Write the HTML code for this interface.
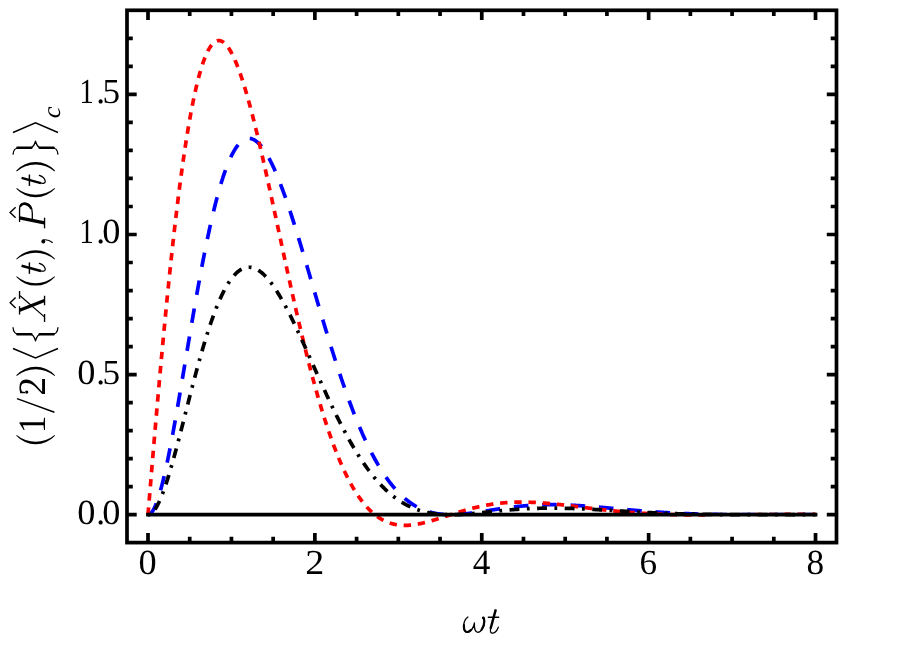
<!DOCTYPE html>
<html><head><meta charset="utf-8"><title>plot</title>
<style>
html,body{margin:0;padding:0;background:#fff;}
body{width:900px;height:650px;overflow:hidden;font-family:"Liberation Serif",serif;}
svg{display:block;}
text{font-family:"Liberation Serif",serif;fill:#000;text-rendering:geometricPrecision;}
svg{will-change:transform;}
.tl text{font-size:35.2px;}
</style></head><body>
<svg width="900" height="650" viewBox="0 0 900 650">
<rect x="0" y="0" width="900" height="650" fill="#fff"/>
<defs><clipPath id="cc"><path clip-rule="evenodd" d="M0,0 H900 V650 H0 Z M705,515.8000000000001 H830 V518.7 H705 Z"/></clipPath></defs>
<g fill="none" stroke-width="3.7" stroke-linecap="butt" stroke-linejoin="round">
<path clip-path="url(#cc)" d="M148.00,514.70 L148.56,514.64 L149.11,514.48 L149.67,514.21 L150.23,513.83 L150.78,513.35 L151.34,512.76 L151.89,512.08 L152.45,511.30 L153.01,510.43 L153.56,509.46 L154.12,508.41 L154.68,507.26 L155.23,506.03 L155.79,504.72 L156.34,503.32 L156.90,501.84 L157.46,500.29 L158.01,498.65 L158.57,496.95 L159.13,495.17 L159.68,493.32 L160.24,491.40 L160.79,489.42 L161.35,487.37 L161.91,485.26 L162.46,483.08 L163.02,480.85 L163.58,478.56 L164.13,476.22 L164.69,473.82 L165.24,471.37 L165.80,468.86 L166.36,466.31 L166.91,463.72 L167.47,461.07 L168.03,458.39 L168.58,455.66 L169.14,452.89 L169.69,450.08 L170.25,447.24 L170.81,444.36 L171.36,441.44 L171.92,438.49 L172.48,435.51 L173.03,432.51 L173.59,429.47 L174.14,426.41 L174.70,423.32 L175.26,420.21 L175.81,417.07 L176.37,413.92 L176.93,410.74 L177.48,407.55 L178.04,404.34 L178.59,401.11 L179.15,397.87 L179.71,394.62 L180.26,391.35 L180.82,388.08 L181.38,384.79 L181.93,381.50 L182.49,378.20 L183.04,374.89 L183.60,371.58 L184.16,368.26 L184.71,364.95 L185.27,361.63 L185.83,358.31 L186.38,354.99 L186.94,351.68 L187.49,348.36 L188.05,345.06 L188.61,341.75 L189.16,338.45 L189.72,335.16 L190.28,331.88 L190.83,328.60 L191.39,325.34 L191.95,322.08 L192.50,318.84 L193.06,315.61 L193.61,312.39 L194.17,309.18 L194.73,306.00 L195.28,302.82 L195.84,299.66 L196.40,296.52 L196.95,293.40 L197.51,290.30 L198.06,287.21 L198.62,284.14 L199.18,281.10 L199.73,278.08 L200.29,275.08 L200.85,272.10 L201.40,269.14 L201.96,266.21 L202.51,263.30 L203.07,260.42 L203.63,257.56 L204.18,254.73 L204.74,251.93 L205.30,249.15 L205.85,246.40 L206.41,243.68 L206.96,240.99 L207.52,238.32 L208.08,235.69 L208.63,233.09 L209.19,230.51 L209.75,227.97 L210.30,225.46 L210.86,222.98 L211.41,220.53 L211.97,218.11 L212.53,215.73 L213.08,213.38 L213.64,211.06 L214.20,208.78 L214.75,206.53 L215.31,204.31 L215.86,202.13 L216.42,199.99 L216.98,197.88 L217.53,195.80 L218.09,193.76 L218.65,191.76 L219.20,189.79 L219.76,187.85 L220.31,185.96 L220.87,184.10 L221.43,182.27 L221.98,180.49 L222.54,178.74 L223.10,177.02 L223.65,175.35 L224.21,173.71 L224.76,172.10 L225.32,170.54 L225.88,169.01 L226.43,167.52 L226.99,166.07 L227.55,164.66 L228.10,163.28 L228.66,161.94 L229.21,160.64 L229.77,159.38 L230.33,158.15 L230.88,156.96 L231.44,155.81 L232.00,154.70 L232.55,153.62 L233.11,152.58 L233.67,151.58 L234.22,150.62 L234.78,149.70 L235.33,148.81 L235.89,147.96 L236.45,147.14 L237.00,146.37 L237.56,145.63 L238.12,144.93 L238.67,144.26 L239.23,143.63 L239.78,143.04 L240.34,142.48 L240.90,141.96 L241.45,141.48 L242.01,141.03 L242.57,140.62 L243.12,140.24 L243.68,139.90 L244.23,139.60 L244.79,139.33 L245.35,139.09 L245.90,138.89 L246.46,138.73 L247.02,138.59 L247.57,138.50 L248.13,138.43 L248.68,138.40 L249.24,138.41 L249.80,138.45 L250.35,138.52 L250.91,138.62 L251.47,138.76 L252.02,138.92 L252.58,139.12 L253.13,139.36 L253.69,139.62 L254.25,139.92 L254.80,140.24 L255.36,140.60 L255.92,140.99 L256.47,141.40 L257.03,141.85 L257.58,142.33 L258.14,142.84 L258.70,143.37 L259.25,143.94 L259.81,144.53 L260.37,145.16 L260.92,145.81 L261.48,146.49 L262.03,147.19 L262.59,147.92 L263.15,148.68 L263.70,149.47 L264.26,150.28 L264.82,151.12 L265.37,151.99 L265.93,152.88 L266.48,153.79 L267.04,154.73 L267.60,155.69 L268.15,156.68 L268.71,157.69 L269.27,158.73 L269.82,159.79 L270.38,160.87 L270.93,161.97 L271.49,163.10 L272.05,164.24 L272.60,165.41 L273.16,166.60 L273.72,167.81 L274.27,169.04 L274.83,170.30 L275.39,171.57 L275.94,172.86 L276.50,174.17 L277.05,175.50 L277.61,176.85 L278.17,178.21 L278.72,179.60 L279.28,181.00 L279.84,182.42 L280.39,183.85 L280.95,185.31 L281.50,186.78 L282.06,188.26 L282.62,189.76 L283.17,191.28 L283.73,192.81 L284.29,194.35 L284.84,195.91 L285.40,197.49 L285.95,199.07 L286.51,200.68 L287.07,202.29 L287.62,203.92 L288.18,205.56 L288.74,207.21 L289.29,208.87 L289.85,210.55 L290.40,212.23 L290.96,213.93 L291.52,215.64 L292.07,217.35 L292.63,219.08 L293.19,220.82 L293.74,222.57 L294.30,224.32 L294.85,226.09 L295.41,227.86 L295.97,229.64 L296.52,231.43 L297.08,233.22 L297.64,235.03 L298.19,236.84 L298.75,238.66 L299.30,240.48 L299.86,242.31 L300.42,244.15 L300.97,245.99 L301.53,247.83 L302.09,249.69 L302.64,251.54 L303.20,253.40 L303.75,255.27 L304.31,257.14 L304.87,259.01 L305.42,260.88 L305.98,262.76 L306.54,264.64 L307.09,266.53 L307.65,268.41 L308.20,270.30 L308.76,272.19 L309.32,274.09 L309.87,275.98 L310.43,277.87 L310.99,279.77 L311.54,281.66 L312.10,283.56 L312.65,285.46 L313.21,287.35 L313.77,289.25 L314.32,291.15 L314.88,293.04 L315.44,294.93 L315.99,296.83 L316.55,298.72 L317.11,300.61 L317.66,302.49 L318.22,304.38 L318.77,306.26 L319.33,308.14 L319.89,310.02 L320.44,311.89 L321.00,313.77 L321.56,315.63 L322.11,317.50 L322.67,319.36 L323.22,321.22 L323.78,323.07 L324.34,324.92 L324.89,326.76 L325.45,328.60 L326.01,330.44 L326.56,332.27 L327.12,334.09 L327.67,335.91 L328.23,337.73 L328.79,339.54 L329.34,341.34 L329.90,343.14 L330.46,344.93 L331.01,346.71 L331.57,348.49 L332.12,350.26 L332.68,352.03 L333.24,353.79 L333.79,355.54 L334.35,357.28 L334.91,359.02 L335.46,360.75 L336.02,362.47 L336.57,364.18 L337.13,365.89 L337.69,367.59 L338.24,369.28 L338.80,370.96 L339.36,372.64 L339.91,374.30 L340.47,375.96 L341.02,377.61 L341.58,379.25 L342.14,380.88 L342.69,382.51 L343.25,384.12 L343.81,385.73 L344.36,387.32 L344.92,388.91 L345.47,390.48 L346.03,392.05 L346.59,393.61 L347.14,395.16 L347.70,396.70 L348.26,398.23 L348.81,399.75 L349.37,401.26 L349.92,402.76 L350.48,404.25 L351.04,405.73 L351.59,407.20 L352.15,408.66 L352.71,410.11 L353.26,411.55 L353.82,412.97 L354.37,414.39 L354.93,415.80 L355.49,417.20 L356.04,418.58 L356.60,419.96 L357.16,421.33 L357.71,422.68 L358.27,424.03 L358.83,425.36 L359.38,426.68 L359.94,427.99 L360.49,429.29 L361.05,430.58 L361.61,431.86 L362.16,433.13 L362.72,434.39 L363.28,435.64 L363.83,436.87 L364.39,438.09 L364.94,439.31 L365.50,440.51 L366.06,441.70 L366.61,442.88 L367.17,444.05 L367.73,445.21 L368.28,446.36 L368.84,447.49 L369.39,448.62 L369.95,449.73 L370.51,450.83 L371.06,451.93 L371.62,453.01 L372.18,454.08 L372.73,455.13 L373.29,456.18 L373.84,457.22 L374.40,458.24 L374.96,459.26 L375.51,460.26 L376.07,461.25 L376.63,462.24 L377.18,463.21 L377.74,464.17 L378.29,465.12 L378.85,466.05 L379.41,466.98 L379.96,467.90 L380.52,468.80 L381.08,469.70 L381.63,470.58 L382.19,471.46 L382.74,472.32 L383.30,473.17 L383.86,474.01 L384.41,474.84 L384.97,475.66 L385.53,476.47 L386.08,477.27 L386.64,478.06 L387.19,478.84 L387.75,479.61 L388.31,480.37 L388.86,481.12 L389.42,481.85 L389.98,482.58 L390.53,483.30 L391.09,484.01 L391.64,484.70 L392.20,485.39 L392.76,486.07 L393.31,486.74 L393.87,487.40 L394.43,488.04 L394.98,488.68 L395.54,489.31 L396.09,489.93 L396.65,490.54 L397.21,491.14 L397.76,491.73 L398.32,492.31 L398.88,492.89 L399.43,493.45 L399.99,494.00 L400.55,494.55 L401.10,495.08 L401.66,495.61 L402.21,496.13 L402.77,496.64 L403.33,497.14 L403.88,497.63 L404.44,498.11 L405.00,498.59 L405.55,499.05 L406.11,499.51 L406.66,499.96 L407.22,500.40 L407.78,500.83 L408.33,501.25 L408.89,501.67 L409.45,502.08 L410.00,502.48 L410.56,502.87 L411.11,503.25 L411.67,503.63 L412.23,504.00 L412.78,504.36 L413.34,504.71 L413.90,505.06 L414.45,505.39 L415.01,505.72 L415.56,506.05 L416.12,506.36 L416.68,506.67 L417.23,506.97 L417.79,507.27 L418.35,507.56 L418.90,507.84 L419.46,508.11 L420.01,508.38 L420.57,508.64 L421.13,508.89 L421.68,509.14 L422.24,509.38 L422.80,509.61 L423.35,509.84 L423.91,510.06 L424.46,510.28 L425.02,510.49 L425.58,510.69 L426.13,510.89 L426.69,511.08 L427.25,511.27 L427.80,511.45 L428.36,511.62 L428.91,511.79 L429.47,511.95 L430.03,512.11 L430.58,512.26 L431.14,512.41 L431.70,512.55 L432.25,512.68 L432.81,512.82 L433.36,512.94 L433.92,513.06 L434.48,513.18 L435.03,513.29 L435.59,513.40 L436.15,513.50 L436.70,513.59 L437.26,513.69 L437.81,513.77 L438.37,513.86 L438.93,513.94 L439.48,514.01 L440.04,514.08 L440.60,514.15 L441.15,514.21 L441.71,514.27 L442.27,514.32 L442.82,514.37 L443.38,514.42 L443.93,514.46 L444.49,514.50 L445.05,514.54 L445.60,514.57 L446.16,514.60 L446.72,514.62 L447.27,514.64 L447.83,514.66 L448.38,514.67 L448.94,514.69 L449.50,514.69 L450.05,514.70 L450.61,514.70 L451.17,514.70 L451.72,514.69 L452.28,514.69 L452.83,514.68 L453.39,514.67 L453.95,514.65 L454.50,514.63 L455.06,514.61 L455.62,514.59 L456.17,514.56 L456.73,514.54 L457.28,514.51 L457.84,514.47 L458.40,514.44 L458.95,514.40 L459.51,514.36 L460.07,514.32 L460.62,514.28 L461.18,514.23 L461.73,514.19 L462.29,514.14 L462.85,514.09 L463.40,514.04 L463.96,513.98 L464.52,513.93 L465.07,513.87 L465.63,513.81 L466.18,513.75 L466.74,513.69 L467.30,513.62 L467.85,513.56 L468.41,513.49 L468.97,513.42 L469.52,513.35 L470.08,513.28 L470.63,513.21 L471.19,513.14 L471.75,513.07 L472.30,512.99 L472.86,512.92 L473.42,512.84 L473.97,512.76 L474.53,512.69 L475.08,512.61 L475.64,512.53 L476.20,512.45 L476.75,512.36 L477.31,512.28 L477.87,512.20 L478.42,512.12 L478.98,512.03 L479.53,511.95 L480.09,511.86 L480.65,511.78 L481.20,511.69 L481.76,511.61 L482.32,511.52 L482.87,511.43 L483.43,511.35 L483.99,511.26 L484.54,511.17 L485.10,511.08 L485.65,511.00 L486.21,510.91 L486.77,510.82 L487.32,510.73 L487.88,510.64 L488.44,510.56 L488.99,510.47 L489.55,510.38 L490.10,510.29 L490.66,510.20 L491.22,510.12 L491.77,510.03 L492.33,509.94 L492.89,509.85 L493.44,509.77 L494.00,509.68 L494.55,509.59 L495.11,509.51 L495.67,509.42 L496.22,509.33 L496.78,509.25 L497.34,509.16 L497.89,509.08 L498.45,509.00 L499.00,508.91 L499.56,508.83 L500.12,508.75 L500.67,508.66 L501.23,508.58 L501.79,508.50 L502.34,508.42 L502.90,508.34 L503.45,508.26 L504.01,508.18 L504.57,508.11 L505.12,508.03 L505.68,507.95 L506.24,507.88 L506.79,507.80 L507.35,507.73 L507.90,507.65 L508.46,507.58 L509.02,507.51 L509.57,507.43 L510.13,507.36 L510.69,507.29 L511.24,507.22 L511.80,507.16 L512.35,507.09 L512.91,507.02 L513.47,506.96 L514.02,506.89 L514.58,506.83 L515.14,506.76 L515.69,506.70 L516.25,506.64 L516.80,506.58 L517.36,506.52 L517.92,506.46 L518.47,506.40 L519.03,506.34 L519.59,506.29 L520.14,506.23 L520.70,506.18 L521.25,506.12 L521.81,506.07 L522.37,506.02 L522.92,505.97 L523.48,505.92 L524.04,505.87 L524.59,505.82 L525.15,505.78 L525.71,505.73 L526.26,505.69 L526.82,505.64 L527.37,505.60 L527.93,505.56 L528.49,505.52 L529.04,505.48 L529.60,505.44 L530.16,505.40 L530.71,505.36 L531.27,505.33 L531.82,505.29 L532.38,505.26 L532.94,505.23 L533.49,505.20 L534.05,505.16 L534.61,505.14 L535.16,505.11 L535.72,505.08 L536.27,505.05 L536.83,505.03 L537.39,505.00 L537.94,504.98 L538.50,504.96 L539.06,504.93 L539.61,504.91 L540.17,504.89 L540.72,504.87 L541.28,504.86 L541.84,504.84 L542.39,504.82 L542.95,504.81 L543.51,504.79 L544.06,504.78 L544.62,504.77 L545.17,504.76 L545.73,504.75 L546.29,504.74 L546.84,504.73 L547.40,504.72 L547.96,504.72 L548.51,504.71 L549.07,504.71 L549.62,504.70 L550.18,504.70 L550.74,504.70 L551.29,504.70 L551.85,504.70 L552.41,504.70 L552.96,504.70 L553.52,504.70 L554.07,504.71 L554.63,504.71 L555.19,504.72 L555.74,504.72 L556.30,504.73 L556.86,504.74 L557.41,504.75 L557.97,504.76 L558.52,504.77 L559.08,504.78 L559.64,504.79 L560.19,504.80 L560.75,504.81 L561.31,504.83 L561.86,504.84 L562.42,504.86 L562.97,504.88 L563.53,504.89 L564.09,504.91 L564.64,504.93 L565.20,504.95 L565.76,504.97 L566.31,504.99 L566.87,505.01 L567.43,505.03 L567.98,505.06 L568.54,505.08 L569.09,505.10 L569.65,505.13 L570.21,505.15 L570.76,505.18 L571.32,505.21 L571.88,505.23 L572.43,505.26 L572.99,505.29 L573.54,505.32 L574.10,505.35 L574.66,505.38 L575.21,505.41 L575.77,505.44 L576.33,505.48 L576.88,505.51 L577.44,505.54 L577.99,505.57 L578.55,505.61 L579.11,505.64 L579.66,505.68 L580.22,505.71 L580.78,505.75 L581.33,505.79 L581.89,505.83 L582.44,505.86 L583.00,505.90 L583.56,505.94 L584.11,505.98 L584.67,506.02 L585.23,506.06 L585.78,506.10 L586.34,506.14 L586.89,506.18 L587.45,506.22 L588.01,506.26 L588.56,506.30 L589.12,506.35 L589.68,506.39 L590.23,506.43 L590.79,506.48 L591.34,506.52 L591.90,506.56 L592.46,506.61 L593.01,506.65 L593.57,506.70 L594.13,506.74 L594.68,506.79 L595.24,506.84 L595.79,506.88 L596.35,506.93 L596.91,506.98 L597.46,507.02 L598.02,507.07 L598.58,507.12 L599.13,507.16 L599.69,507.21 L600.24,507.26 L600.80,507.31 L601.36,507.36 L601.91,507.40 L602.47,507.45 L603.03,507.50 L603.58,507.55 L604.14,507.60 L604.69,507.65 L605.25,507.70 L605.81,507.75 L606.36,507.80 L606.92,507.85 L607.48,507.90 L608.03,507.95 L608.59,508.00 L609.15,508.05 L609.70,508.10 L610.26,508.15 L610.81,508.20 L611.37,508.25 L611.93,508.30 L612.48,508.35 L613.04,508.40 L613.60,508.45 L614.15,508.50 L614.71,508.55 L615.26,508.60 L615.82,508.65 L616.38,508.70 L616.93,508.75 L617.49,508.80 L618.05,508.85 L618.60,508.90 L619.16,508.95 L619.71,509.00 L620.27,509.05 L620.83,509.10 L621.38,509.15 L621.94,509.20 L622.50,509.25 L623.05,509.30 L623.61,509.35 L624.16,509.40 L624.72,509.45 L625.28,509.50 L625.83,509.55 L626.39,509.60 L626.95,509.65 L627.50,509.70 L628.06,509.75 L628.61,509.80 L629.17,509.84 L629.73,509.89 L630.28,509.94 L630.84,509.99 L631.40,510.04 L631.95,510.09 L632.51,510.13 L633.06,510.18 L633.62,510.23 L634.18,510.28 L634.73,510.32 L635.29,510.37 L635.85,510.42 L636.40,510.46 L636.96,510.51 L637.51,510.56 L638.07,510.60 L638.63,510.65 L639.18,510.69 L639.74,510.74 L640.30,510.78 L640.85,510.83 L641.41,510.87 L641.96,510.92 L642.52,510.96 L643.08,511.01 L643.63,511.05 L644.19,511.09 L644.75,511.14 L645.30,511.18 L645.86,511.22 L646.41,511.27 L646.97,511.31 L647.53,511.35 L648.08,511.39 L648.64,511.43 L649.20,511.48 L649.75,511.52 L650.31,511.56 L650.87,511.60 L651.42,511.64 L651.98,511.68 L652.53,511.72 L653.09,511.76 L653.65,511.80 L654.20,511.84 L654.76,511.88 L655.32,511.91 L655.87,511.95 L656.43,511.99 L656.98,512.03 L657.54,512.07 L658.10,512.10 L658.65,512.14 L659.21,512.18 L659.77,512.21 L660.32,512.25 L660.88,512.28 L661.43,512.32 L661.99,512.36 L662.55,512.39 L663.10,512.43 L663.66,512.46 L664.22,512.49 L664.77,512.53 L665.33,512.56 L665.88,512.59 L666.44,512.63 L667.00,512.66 L667.55,512.69 L668.11,512.72 L668.67,512.76 L669.22,512.79 L669.78,512.82 L670.33,512.85 L670.89,512.88 L671.45,512.91 L672.00,512.94 L672.56,512.97 L673.12,513.00 L673.67,513.03 L674.23,513.06 L674.78,513.08 L675.34,513.11 L675.90,513.14 L676.45,513.17 L677.01,513.20 L677.57,513.22 L678.12,513.25 L678.68,513.28 L679.23,513.30 L679.79,513.33 L680.35,513.35 L680.90,513.38 L681.46,513.40 L682.02,513.43 L682.57,513.45 L683.13,513.48 L683.68,513.50 L684.24,513.52 L684.80,513.55 L685.35,513.57 L685.91,513.59 L686.47,513.62 L687.02,513.64 L687.58,513.66 L688.13,513.68 L688.69,513.70 L689.25,513.72 L689.80,513.74 L690.36,513.76 L690.92,513.78 L691.47,513.80 L692.03,513.82 L692.59,513.84 L693.14,513.86 L693.70,513.88 L694.25,513.90 L694.81,513.92 L695.37,513.94 L695.92,513.95 L696.48,513.97 L697.04,513.99 L697.59,514.01 L698.15,514.02 L698.70,514.04 L699.26,514.06 L699.82,514.07 L700.37,514.09 L700.93,514.10 L701.49,514.12 L702.04,514.13 L702.60,514.15 L703.15,514.16 L703.71,514.18 L704.27,514.19 L704.82,514.20 L705.38,514.22 L705.94,514.23 L706.49,514.24 L707.05,514.26 L707.60,514.27 L708.16,514.28 L708.72,514.29 L709.27,514.31 L709.83,514.32 L710.39,514.33 L710.94,514.34 L711.50,514.35 L712.05,514.36 L712.61,514.37 L713.17,514.38 L713.72,514.39 L714.28,514.40 L714.84,514.41 L715.39,514.42 L715.95,514.43 L716.50,514.44 L717.06,514.45 L717.62,514.46 L718.17,514.47 L718.73,514.48 L719.29,514.49 L719.84,514.49 L720.40,514.50 L720.95,514.51 L721.51,514.52 L722.07,514.52 L722.62,514.53 L723.18,514.54 L723.74,514.54 L724.29,514.55 L724.85,514.56 L725.40,514.56 L725.96,514.57 L726.52,514.58 L727.07,514.58 L727.63,514.59 L728.19,514.59 L728.74,514.60 L729.30,514.60 L729.85,514.61 L730.41,514.61 L730.97,514.62 L731.52,514.62 L732.08,514.63 L732.64,514.63 L733.19,514.63 L733.75,514.64 L734.31,514.64 L734.86,514.65 L735.42,514.65 L735.97,514.65 L736.53,514.66 L737.09,514.66 L737.64,514.66 L738.20,514.66 L738.76,514.67 L739.31,514.67 L739.87,514.67 L740.42,514.68 L740.98,514.68 L741.54,514.68 L742.09,514.68 L742.65,514.68 L743.21,514.69 L743.76,514.69 L744.32,514.69 L744.87,514.69 L745.43,514.69 L745.99,514.69 L746.54,514.69 L747.10,514.69 L747.66,514.70 L748.21,514.70 L748.77,514.70 L749.32,514.70 L749.88,514.70 L750.44,514.70 L750.99,514.70 L751.55,514.70 L752.11,514.70 L752.66,514.70 L753.22,514.70 L753.77,514.70 L754.33,514.70 L754.89,514.70 L755.44,514.70 L756.00,514.70 L756.56,514.70 L757.11,514.70 L757.67,514.70 L758.22,514.70 L758.78,514.70 L759.34,514.70 L759.89,514.69 L760.45,514.69 L761.01,514.69 L761.56,514.69 L762.12,514.69 L762.67,514.69 L763.23,514.69 L763.79,514.69 L764.34,514.69 L764.90,514.69 L765.46,514.68 L766.01,514.68 L766.57,514.68 L767.12,514.68 L767.68,514.68 L768.24,514.68 L768.79,514.67 L769.35,514.67 L769.91,514.67 L770.46,514.67 L771.02,514.67 L771.57,514.67 L772.13,514.66 L772.69,514.66 L773.24,514.66 L773.80,514.66 L774.36,514.66 L774.91,514.65 L775.47,514.65 L776.03,514.65 L776.58,514.65 L777.14,514.65 L777.69,514.64 L778.25,514.64 L778.81,514.64 L779.36,514.64 L779.92,514.64 L780.48,514.63 L781.03,514.63 L781.59,514.63 L782.14,514.63 L782.70,514.62 L783.26,514.62 L783.81,514.62 L784.37,514.62 L784.93,514.62 L785.48,514.61 L786.04,514.61 L786.59,514.61 L787.15,514.61 L787.71,514.60 L788.26,514.60 L788.82,514.60 L789.38,514.60 L789.93,514.59 L790.49,514.59 L791.04,514.59 L791.60,514.59 L792.16,514.59 L792.71,514.58 L793.27,514.58 L793.83,514.58 L794.38,514.58 L794.94,514.57 L795.49,514.57 L796.05,514.57 L796.61,514.57 L797.16,514.56 L797.72,514.56 L798.28,514.56 L798.83,514.56 L799.39,514.56 L799.94,514.55 L800.50,514.55 L801.06,514.55 L801.61,514.55 L802.17,514.54 L802.73,514.54 L803.28,514.54 L803.84,514.54 L804.39,514.54 L804.95,514.53 L805.51,514.53 L806.06,514.53 L806.62,514.53 L807.18,514.53 L807.73,514.52 L808.29,514.52 L808.84,514.52 L809.40,514.52 L809.96,514.51 L810.51,514.51 L811.07,514.51 L811.63,514.51 L812.18,514.51 L812.74,514.51 L813.29,514.50 L813.85,514.50 L814.41,514.50 L814.96,514.50 L815.52,514.50" stroke="#0000ff" stroke-dasharray="14.6 13.8"/>
<path clip-path="url(#cc)" d="M148.00,514.70 L148.56,507.94 L149.11,501.20 L149.67,494.48 L150.23,487.77 L150.78,481.07 L151.34,474.40 L151.89,467.75 L152.45,461.13 L153.01,454.52 L153.56,447.94 L154.12,441.39 L154.68,434.87 L155.23,428.37 L155.79,421.91 L156.34,415.47 L156.90,409.07 L157.46,402.71 L158.01,396.37 L158.57,390.08 L159.13,383.82 L159.68,377.60 L160.24,371.42 L160.79,365.28 L161.35,359.18 L161.91,353.13 L162.46,347.11 L163.02,341.14 L163.58,335.22 L164.13,329.34 L164.69,323.51 L165.24,317.73 L165.80,311.99 L166.36,306.31 L166.91,300.67 L167.47,295.09 L168.03,289.55 L168.58,284.07 L169.14,278.65 L169.69,273.27 L170.25,267.95 L170.81,262.69 L171.36,257.47 L171.92,252.32 L172.48,247.22 L173.03,242.18 L173.59,237.20 L174.14,232.27 L174.70,227.41 L175.26,222.60 L175.81,217.85 L176.37,213.17 L176.93,208.54 L177.48,203.97 L178.04,199.46 L178.59,195.02 L179.15,190.64 L179.71,186.32 L180.26,182.06 L180.82,177.86 L181.38,173.73 L181.93,169.66 L182.49,165.65 L183.04,161.71 L183.60,157.83 L184.16,154.02 L184.71,150.26 L185.27,146.58 L185.83,142.96 L186.38,139.40 L186.94,135.90 L187.49,132.47 L188.05,129.11 L188.61,125.81 L189.16,122.58 L189.72,119.41 L190.28,116.30 L190.83,113.26 L191.39,110.29 L191.95,107.38 L192.50,104.53 L193.06,101.75 L193.61,99.03 L194.17,96.38 L194.73,93.80 L195.28,91.27 L195.84,88.82 L196.40,86.42 L196.95,84.09 L197.51,81.83 L198.06,79.62 L198.62,77.49 L199.18,75.41 L199.73,73.40 L200.29,71.45 L200.85,69.56 L201.40,67.74 L201.96,65.98 L202.51,64.28 L203.07,62.64 L203.63,61.06 L204.18,59.55 L204.74,58.09 L205.30,56.70 L205.85,55.37 L206.41,54.10 L206.96,52.88 L207.52,51.73 L208.08,50.64 L208.63,49.60 L209.19,48.62 L209.75,47.70 L210.30,46.84 L210.86,46.04 L211.41,45.29 L211.97,44.60 L212.53,43.97 L213.08,43.39 L213.64,42.87 L214.20,42.40 L214.75,41.99 L215.31,41.63 L215.86,41.32 L216.42,41.07 L216.98,40.87 L217.53,40.73 L218.09,40.63 L218.65,40.59 L219.20,40.60 L219.76,40.66 L220.31,40.77 L220.87,40.92 L221.43,41.13 L221.98,41.39 L222.54,41.70 L223.10,42.05 L223.65,42.45 L224.21,42.90 L224.76,43.39 L225.32,43.93 L225.88,44.52 L226.43,45.14 L226.99,45.82 L227.55,46.54 L228.10,47.30 L228.66,48.10 L229.21,48.95 L229.77,49.84 L230.33,50.77 L230.88,51.74 L231.44,52.75 L232.00,53.80 L232.55,54.89 L233.11,56.02 L233.67,57.18 L234.22,58.39 L234.78,59.63 L235.33,60.91 L235.89,62.22 L236.45,63.57 L237.00,64.96 L237.56,66.38 L238.12,67.83 L238.67,69.31 L239.23,70.83 L239.78,72.39 L240.34,73.97 L240.90,75.58 L241.45,77.23 L242.01,78.90 L242.57,80.61 L243.12,82.34 L243.68,84.11 L244.23,85.90 L244.79,87.72 L245.35,89.56 L245.90,91.44 L246.46,93.33 L247.02,95.26 L247.57,97.21 L248.13,99.18 L248.68,101.18 L249.24,103.20 L249.80,105.24 L250.35,107.31 L250.91,109.40 L251.47,111.51 L252.02,113.64 L252.58,115.79 L253.13,117.96 L253.69,120.15 L254.25,122.36 L254.80,124.58 L255.36,126.83 L255.92,129.09 L256.47,131.37 L257.03,133.67 L257.58,135.98 L258.14,138.31 L258.70,140.65 L259.25,143.01 L259.81,145.38 L260.37,147.76 L260.92,150.16 L261.48,152.57 L262.03,154.99 L262.59,157.42 L263.15,159.87 L263.70,162.33 L264.26,164.79 L264.82,167.27 L265.37,169.75 L265.93,172.25 L266.48,174.75 L267.04,177.26 L267.60,179.78 L268.15,182.31 L268.71,184.84 L269.27,187.38 L269.82,189.93 L270.38,192.48 L270.93,195.04 L271.49,197.60 L272.05,200.17 L272.60,202.74 L273.16,205.31 L273.72,207.89 L274.27,210.47 L274.83,213.05 L275.39,215.64 L275.94,218.23 L276.50,220.81 L277.05,223.40 L277.61,225.99 L278.17,228.58 L278.72,231.17 L279.28,233.76 L279.84,236.35 L280.39,238.94 L280.95,241.53 L281.50,244.11 L282.06,246.70 L282.62,249.28 L283.17,251.85 L283.73,254.43 L284.29,257.00 L284.84,259.57 L285.40,262.13 L285.95,264.69 L286.51,267.25 L287.07,269.80 L287.62,272.34 L288.18,274.88 L288.74,277.41 L289.29,279.94 L289.85,282.46 L290.40,284.98 L290.96,287.49 L291.52,289.99 L292.07,292.48 L292.63,294.97 L293.19,297.45 L293.74,299.92 L294.30,302.38 L294.85,304.83 L295.41,307.28 L295.97,309.72 L296.52,312.14 L297.08,314.56 L297.64,316.97 L298.19,319.37 L298.75,321.75 L299.30,324.13 L299.86,326.50 L300.42,328.86 L300.97,331.20 L301.53,333.54 L302.09,335.86 L302.64,338.17 L303.20,340.47 L303.75,342.76 L304.31,345.04 L304.87,347.30 L305.42,349.56 L305.98,351.80 L306.54,354.02 L307.09,356.24 L307.65,358.44 L308.20,360.63 L308.76,362.81 L309.32,364.97 L309.87,367.12 L310.43,369.25 L310.99,371.38 L311.54,373.48 L312.10,375.58 L312.65,377.66 L313.21,379.73 L313.77,381.78 L314.32,383.82 L314.88,385.84 L315.44,387.85 L315.99,389.84 L316.55,391.82 L317.11,393.79 L317.66,395.74 L318.22,397.67 L318.77,399.59 L319.33,401.50 L319.89,403.39 L320.44,405.26 L321.00,407.12 L321.56,408.97 L322.11,410.79 L322.67,412.61 L323.22,414.40 L323.78,416.19 L324.34,417.95 L324.89,419.70 L325.45,421.44 L326.01,423.16 L326.56,424.86 L327.12,426.55 L327.67,428.22 L328.23,429.88 L328.79,431.52 L329.34,433.14 L329.90,434.75 L330.46,436.34 L331.01,437.92 L331.57,439.48 L332.12,441.02 L332.68,442.55 L333.24,444.07 L333.79,445.56 L334.35,447.04 L334.91,448.51 L335.46,449.96 L336.02,451.39 L336.57,452.81 L337.13,454.21 L337.69,455.59 L338.24,456.96 L338.80,458.32 L339.36,459.65 L339.91,460.98 L340.47,462.28 L341.02,463.57 L341.58,464.85 L342.14,466.10 L342.69,467.35 L343.25,468.58 L343.81,469.79 L344.36,470.98 L344.92,472.17 L345.47,473.33 L346.03,474.48 L346.59,475.62 L347.14,476.74 L347.70,477.84 L348.26,478.93 L348.81,480.00 L349.37,481.06 L349.92,482.11 L350.48,483.14 L351.04,484.15 L351.59,485.15 L352.15,486.13 L352.71,487.10 L353.26,488.06 L353.82,489.00 L354.37,489.93 L354.93,490.84 L355.49,491.74 L356.04,492.62 L356.60,493.49 L357.16,494.34 L357.71,495.18 L358.27,496.01 L358.83,496.82 L359.38,497.62 L359.94,498.41 L360.49,499.18 L361.05,499.94 L361.61,500.68 L362.16,501.42 L362.72,502.13 L363.28,502.84 L363.83,503.53 L364.39,504.21 L364.94,504.88 L365.50,505.53 L366.06,506.17 L366.61,506.80 L367.17,507.41 L367.73,508.02 L368.28,508.61 L368.84,509.19 L369.39,509.75 L369.95,510.31 L370.51,510.85 L371.06,511.38 L371.62,511.90 L372.18,512.40 L372.73,512.90 L373.29,513.38 L373.84,513.85 L374.40,514.31 L374.96,514.76 L375.51,515.20 L376.07,515.63 L376.63,516.05 L377.18,516.45 L377.74,516.85 L378.29,517.23 L378.85,517.61 L379.41,517.97 L379.96,518.33 L380.52,518.67 L381.08,519.00 L381.63,519.33 L382.19,519.64 L382.74,519.95 L383.30,520.24 L383.86,520.53 L384.41,520.80 L384.97,521.07 L385.53,521.33 L386.08,521.58 L386.64,521.82 L387.19,522.05 L387.75,522.27 L388.31,522.48 L388.86,522.69 L389.42,522.88 L389.98,523.07 L390.53,523.25 L391.09,523.42 L391.64,523.58 L392.20,523.74 L392.76,523.89 L393.31,524.03 L393.87,524.16 L394.43,524.29 L394.98,524.40 L395.54,524.51 L396.09,524.62 L396.65,524.71 L397.21,524.80 L397.76,524.88 L398.32,524.96 L398.88,525.03 L399.43,525.09 L399.99,525.15 L400.55,525.20 L401.10,525.24 L401.66,525.28 L402.21,525.31 L402.77,525.33 L403.33,525.35 L403.88,525.37 L404.44,525.37 L405.00,525.38 L405.55,525.37 L406.11,525.36 L406.66,525.35 L407.22,525.33 L407.78,525.31 L408.33,525.28 L408.89,525.24 L409.45,525.20 L410.00,525.16 L410.56,525.11 L411.11,525.06 L411.67,525.00 L412.23,524.94 L412.78,524.88 L413.34,524.81 L413.90,524.73 L414.45,524.65 L415.01,524.57 L415.56,524.49 L416.12,524.40 L416.68,524.30 L417.23,524.21 L417.79,524.11 L418.35,524.00 L418.90,523.90 L419.46,523.79 L420.01,523.67 L420.57,523.56 L421.13,523.44 L421.68,523.32 L422.24,523.19 L422.80,523.06 L423.35,522.93 L423.91,522.80 L424.46,522.67 L425.02,522.53 L425.58,522.39 L426.13,522.25 L426.69,522.10 L427.25,521.95 L427.80,521.81 L428.36,521.65 L428.91,521.50 L429.47,521.35 L430.03,521.19 L430.58,521.03 L431.14,520.87 L431.70,520.71 L432.25,520.55 L432.81,520.38 L433.36,520.22 L433.92,520.05 L434.48,519.88 L435.03,519.71 L435.59,519.54 L436.15,519.37 L436.70,519.20 L437.26,519.03 L437.81,518.85 L438.37,518.68 L438.93,518.50 L439.48,518.32 L440.04,518.15 L440.60,517.97 L441.15,517.79 L441.71,517.61 L442.27,517.43 L442.82,517.25 L443.38,517.07 L443.93,516.89 L444.49,516.71 L445.05,516.53 L445.60,516.35 L446.16,516.17 L446.72,515.99 L447.27,515.81 L447.83,515.63 L448.38,515.45 L448.94,515.27 L449.50,515.09 L450.05,514.91 L450.61,514.73 L451.17,514.55 L451.72,514.37 L452.28,514.19 L452.83,514.01 L453.39,513.83 L453.95,513.65 L454.50,513.48 L455.06,513.30 L455.62,513.12 L456.17,512.95 L456.73,512.78 L457.28,512.60 L457.84,512.43 L458.40,512.26 L458.95,512.09 L459.51,511.92 L460.07,511.75 L460.62,511.58 L461.18,511.41 L461.73,511.24 L462.29,511.08 L462.85,510.91 L463.40,510.75 L463.96,510.59 L464.52,510.43 L465.07,510.27 L465.63,510.11 L466.18,509.95 L466.74,509.79 L467.30,509.64 L467.85,509.49 L468.41,509.33 L468.97,509.18 L469.52,509.03 L470.08,508.88 L470.63,508.74 L471.19,508.59 L471.75,508.45 L472.30,508.30 L472.86,508.16 L473.42,508.02 L473.97,507.88 L474.53,507.75 L475.08,507.61 L475.64,507.48 L476.20,507.34 L476.75,507.21 L477.31,507.08 L477.87,506.95 L478.42,506.83 L478.98,506.70 L479.53,506.58 L480.09,506.46 L480.65,506.34 L481.20,506.22 L481.76,506.10 L482.32,505.99 L482.87,505.87 L483.43,505.76 L483.99,505.65 L484.54,505.54 L485.10,505.44 L485.65,505.33 L486.21,505.23 L486.77,505.13 L487.32,505.03 L487.88,504.93 L488.44,504.83 L488.99,504.74 L489.55,504.64 L490.10,504.55 L490.66,504.46 L491.22,504.38 L491.77,504.29 L492.33,504.20 L492.89,504.12 L493.44,504.04 L494.00,503.96 L494.55,503.88 L495.11,503.81 L495.67,503.73 L496.22,503.66 L496.78,503.59 L497.34,503.52 L497.89,503.45 L498.45,503.39 L499.00,503.33 L499.56,503.26 L500.12,503.20 L500.67,503.14 L501.23,503.09 L501.79,503.03 L502.34,502.98 L502.90,502.93 L503.45,502.88 L504.01,502.83 L504.57,502.78 L505.12,502.73 L505.68,502.69 L506.24,502.65 L506.79,502.61 L507.35,502.57 L507.90,502.53 L508.46,502.50 L509.02,502.46 L509.57,502.43 L510.13,502.40 L510.69,502.37 L511.24,502.34 L511.80,502.32 L512.35,502.29 L512.91,502.27 L513.47,502.25 L514.02,502.23 L514.58,502.21 L515.14,502.19 L515.69,502.17 L516.25,502.16 L516.80,502.15 L517.36,502.14 L517.92,502.13 L518.47,502.12 L519.03,502.11 L519.59,502.11 L520.14,502.10 L520.70,502.10 L521.25,502.10 L521.81,502.10 L522.37,502.10 L522.92,502.10 L523.48,502.11 L524.04,502.11 L524.59,502.12 L525.15,502.13 L525.71,502.14 L526.26,502.15 L526.82,502.16 L527.37,502.17 L527.93,502.18 L528.49,502.20 L529.04,502.22 L529.60,502.23 L530.16,502.25 L530.71,502.27 L531.27,502.29 L531.82,502.32 L532.38,502.34 L532.94,502.37 L533.49,502.39 L534.05,502.42 L534.61,502.45 L535.16,502.47 L535.72,502.50 L536.27,502.53 L536.83,502.57 L537.39,502.60 L537.94,502.63 L538.50,502.67 L539.06,502.70 L539.61,502.74 L540.17,502.78 L540.72,502.82 L541.28,502.86 L541.84,502.90 L542.39,502.94 L542.95,502.98 L543.51,503.02 L544.06,503.07 L544.62,503.11 L545.17,503.16 L545.73,503.20 L546.29,503.25 L546.84,503.30 L547.40,503.34 L547.96,503.39 L548.51,503.44 L549.07,503.49 L549.62,503.54 L550.18,503.60 L550.74,503.65 L551.29,503.70 L551.85,503.75 L552.41,503.81 L552.96,503.86 L553.52,503.92 L554.07,503.98 L554.63,504.03 L555.19,504.09 L555.74,504.15 L556.30,504.20 L556.86,504.26 L557.41,504.32 L557.97,504.38 L558.52,504.44 L559.08,504.50 L559.64,504.56 L560.19,504.63 L560.75,504.69 L561.31,504.75 L561.86,504.81 L562.42,504.87 L562.97,504.94 L563.53,505.00 L564.09,505.07 L564.64,505.13 L565.20,505.19 L565.76,505.26 L566.31,505.32 L566.87,505.39 L567.43,505.46 L567.98,505.52 L568.54,505.59 L569.09,505.65 L569.65,505.72 L570.21,505.79 L570.76,505.86 L571.32,505.92 L571.88,505.99 L572.43,506.06 L572.99,506.13 L573.54,506.19 L574.10,506.26 L574.66,506.33 L575.21,506.40 L575.77,506.47 L576.33,506.54 L576.88,506.60 L577.44,506.67 L577.99,506.74 L578.55,506.81 L579.11,506.88 L579.66,506.95 L580.22,507.02 L580.78,507.09 L581.33,507.15 L581.89,507.22 L582.44,507.29 L583.00,507.36 L583.56,507.43 L584.11,507.50 L584.67,507.57 L585.23,507.64 L585.78,507.70 L586.34,507.77 L586.89,507.84 L587.45,507.91 L588.01,507.98 L588.56,508.05 L589.12,508.11 L589.68,508.18 L590.23,508.25 L590.79,508.32 L591.34,508.38 L591.90,508.45 L592.46,508.52 L593.01,508.58 L593.57,508.65 L594.13,508.72 L594.68,508.78 L595.24,508.85 L595.79,508.92 L596.35,508.98 L596.91,509.05 L597.46,509.11 L598.02,509.18 L598.58,509.24 L599.13,509.31 L599.69,509.37 L600.24,509.44 L600.80,509.50 L601.36,509.56 L601.91,509.63 L602.47,509.69 L603.03,509.75 L603.58,509.81 L604.14,509.88 L604.69,509.94 L605.25,510.00 L605.81,510.06 L606.36,510.12 L606.92,510.18 L607.48,510.24 L608.03,510.30 L608.59,510.36 L609.15,510.42 L609.70,510.48 L610.26,510.54 L610.81,510.60 L611.37,510.65 L611.93,510.71 L612.48,510.77 L613.04,510.83 L613.60,510.88 L614.15,510.94 L614.71,510.99 L615.26,511.05 L615.82,511.10 L616.38,511.16 L616.93,511.21 L617.49,511.27 L618.05,511.32 L618.60,511.37 L619.16,511.43 L619.71,511.48 L620.27,511.53 L620.83,511.58 L621.38,511.63 L621.94,511.68 L622.50,511.73 L623.05,511.78 L623.61,511.83 L624.16,511.88 L624.72,511.93 L625.28,511.98 L625.83,512.03 L626.39,512.07 L626.95,512.12 L627.50,512.17 L628.06,512.21 L628.61,512.26 L629.17,512.31 L629.73,512.35 L630.28,512.40 L630.84,512.44 L631.40,512.48 L631.95,512.53 L632.51,512.57 L633.06,512.61 L633.62,512.65 L634.18,512.69 L634.73,512.74 L635.29,512.78 L635.85,512.82 L636.40,512.86 L636.96,512.90 L637.51,512.94 L638.07,512.97 L638.63,513.01 L639.18,513.05 L639.74,513.09 L640.30,513.12 L640.85,513.16 L641.41,513.20 L641.96,513.23 L642.52,513.27 L643.08,513.30 L643.63,513.34 L644.19,513.37 L644.75,513.40 L645.30,513.44 L645.86,513.47 L646.41,513.50 L646.97,513.53 L647.53,513.57 L648.08,513.60 L648.64,513.63 L649.20,513.66 L649.75,513.69 L650.31,513.72 L650.87,513.75 L651.42,513.77 L651.98,513.80 L652.53,513.83 L653.09,513.86 L653.65,513.88 L654.20,513.91 L654.76,513.94 L655.32,513.96 L655.87,513.99 L656.43,514.01 L656.98,514.04 L657.54,514.06 L658.10,514.09 L658.65,514.11 L659.21,514.13 L659.77,514.16 L660.32,514.18 L660.88,514.20 L661.43,514.22 L661.99,514.24 L662.55,514.26 L663.10,514.28 L663.66,514.30 L664.22,514.32 L664.77,514.34 L665.33,514.36 L665.88,514.38 L666.44,514.40 L667.00,514.42 L667.55,514.44 L668.11,514.45 L668.67,514.47 L669.22,514.49 L669.78,514.50 L670.33,514.52 L670.89,514.54 L671.45,514.55 L672.00,514.57 L672.56,514.58 L673.12,514.60 L673.67,514.61 L674.23,514.62 L674.78,514.64 L675.34,514.65 L675.90,514.66 L676.45,514.68 L677.01,514.69 L677.57,514.70 L678.12,514.71 L678.68,514.72 L679.23,514.73 L679.79,514.75 L680.35,514.76 L680.90,514.77 L681.46,514.78 L682.02,514.79 L682.57,514.80 L683.13,514.80 L683.68,514.81 L684.24,514.82 L684.80,514.83 L685.35,514.84 L685.91,514.85 L686.47,514.85 L687.02,514.86 L687.58,514.87 L688.13,514.88 L688.69,514.88 L689.25,514.89 L689.80,514.89 L690.36,514.90 L690.92,514.91 L691.47,514.91 L692.03,514.92 L692.59,514.92 L693.14,514.93 L693.70,514.93 L694.25,514.94 L694.81,514.94 L695.37,514.94 L695.92,514.95 L696.48,514.95 L697.04,514.95 L697.59,514.96 L698.15,514.96 L698.70,514.96 L699.26,514.97 L699.82,514.97 L700.37,514.97 L700.93,514.97 L701.49,514.97 L702.04,514.98 L702.60,514.98 L703.15,514.98 L703.71,514.98 L704.27,514.98 L704.82,514.98 L705.38,514.98 L705.94,514.98 L706.49,514.98 L707.05,514.98 L707.60,514.98 L708.16,514.98 L708.72,514.98 L709.27,514.98 L709.83,514.98 L710.39,514.98 L710.94,514.98 L711.50,514.98 L712.05,514.98 L712.61,514.98 L713.17,514.98 L713.72,514.98 L714.28,514.97 L714.84,514.97 L715.39,514.97 L715.95,514.97 L716.50,514.97 L717.06,514.96 L717.62,514.96 L718.17,514.96 L718.73,514.96 L719.29,514.96 L719.84,514.95 L720.40,514.95 L720.95,514.95 L721.51,514.94 L722.07,514.94 L722.62,514.94 L723.18,514.94 L723.74,514.93 L724.29,514.93 L724.85,514.93 L725.40,514.92 L725.96,514.92 L726.52,514.92 L727.07,514.91 L727.63,514.91 L728.19,514.90 L728.74,514.90 L729.30,514.90 L729.85,514.89 L730.41,514.89 L730.97,514.89 L731.52,514.88 L732.08,514.88 L732.64,514.87 L733.19,514.87 L733.75,514.86 L734.31,514.86 L734.86,514.86 L735.42,514.85 L735.97,514.85 L736.53,514.84 L737.09,514.84 L737.64,514.83 L738.20,514.83 L738.76,514.82 L739.31,514.82 L739.87,514.82 L740.42,514.81 L740.98,514.81 L741.54,514.80 L742.09,514.80 L742.65,514.79 L743.21,514.79 L743.76,514.78 L744.32,514.78 L744.87,514.77 L745.43,514.77 L745.99,514.76 L746.54,514.76 L747.10,514.75 L747.66,514.75 L748.21,514.74 L748.77,514.74 L749.32,514.73 L749.88,514.73 L750.44,514.73 L750.99,514.72 L751.55,514.72 L752.11,514.71 L752.66,514.71 L753.22,514.70 L753.77,514.70 L754.33,514.69 L754.89,514.69 L755.44,514.68 L756.00,514.68 L756.56,514.67 L757.11,514.67 L757.67,514.66 L758.22,514.66 L758.78,514.65 L759.34,514.65 L759.89,514.64 L760.45,514.64 L761.01,514.64 L761.56,514.63 L762.12,514.63 L762.67,514.62 L763.23,514.62 L763.79,514.61 L764.34,514.61 L764.90,514.60 L765.46,514.60 L766.01,514.60 L766.57,514.59 L767.12,514.59 L767.68,514.58 L768.24,514.58 L768.79,514.57 L769.35,514.57 L769.91,514.57 L770.46,514.56 L771.02,514.56 L771.57,514.55 L772.13,514.55 L772.69,514.55 L773.24,514.54 L773.80,514.54 L774.36,514.53 L774.91,514.53 L775.47,514.53 L776.03,514.52 L776.58,514.52 L777.14,514.52 L777.69,514.51 L778.25,514.51 L778.81,514.50 L779.36,514.50 L779.92,514.50 L780.48,514.49 L781.03,514.49 L781.59,514.49 L782.14,514.48 L782.70,514.48 L783.26,514.48 L783.81,514.48 L784.37,514.47 L784.93,514.47 L785.48,514.47 L786.04,514.46 L786.59,514.46 L787.15,514.46 L787.71,514.45 L788.26,514.45 L788.82,514.45 L789.38,514.45 L789.93,514.44 L790.49,514.44 L791.04,514.44 L791.60,514.44 L792.16,514.43 L792.71,514.43 L793.27,514.43 L793.83,514.43 L794.38,514.42 L794.94,514.42 L795.49,514.42 L796.05,514.42 L796.61,514.41 L797.16,514.41 L797.72,514.41 L798.28,514.41 L798.83,514.41 L799.39,514.40 L799.94,514.40 L800.50,514.40 L801.06,514.40 L801.61,514.40 L802.17,514.40 L802.73,514.39 L803.28,514.39 L803.84,514.39 L804.39,514.39 L804.95,514.39 L805.51,514.39 L806.06,514.39 L806.62,514.38 L807.18,514.38 L807.73,514.38 L808.29,514.38 L808.84,514.38 L809.40,514.38 L809.96,514.38 L810.51,514.38 L811.07,514.38 L811.63,514.37 L812.18,514.37 L812.74,514.37 L813.29,514.37 L813.85,514.37 L814.41,514.37 L814.96,514.37 L815.52,514.37" stroke="#ff0000" stroke-dasharray="7.4 6.79"/>
<path d="M148.00,514.70 L148.56,514.66 L149.11,514.55 L149.67,514.37 L150.23,514.13 L150.78,513.81 L151.34,513.43 L151.89,512.98 L152.45,512.47 L153.01,511.89 L153.56,511.26 L154.12,510.56 L154.68,509.81 L155.23,509.00 L155.79,508.13 L156.34,507.22 L156.90,506.24 L157.46,505.22 L158.01,504.15 L158.57,503.02 L159.13,501.86 L159.68,500.64 L160.24,499.38 L160.79,498.07 L161.35,496.73 L161.91,495.34 L162.46,493.91 L163.02,492.44 L163.58,490.93 L164.13,489.39 L164.69,487.81 L165.24,486.20 L165.80,484.56 L166.36,482.88 L166.91,481.17 L167.47,479.43 L168.03,477.66 L168.58,475.87 L169.14,474.05 L169.69,472.20 L170.25,470.33 L170.81,468.44 L171.36,466.52 L171.92,464.58 L172.48,462.62 L173.03,460.64 L173.59,458.65 L174.14,456.63 L174.70,454.60 L175.26,452.55 L175.81,450.49 L176.37,448.42 L176.93,446.33 L177.48,444.23 L178.04,442.12 L178.59,440.00 L179.15,437.87 L179.71,435.73 L180.26,433.58 L180.82,431.42 L181.38,429.26 L181.93,427.10 L182.49,424.93 L183.04,422.75 L183.60,420.57 L184.16,418.39 L184.71,416.21 L185.27,414.03 L185.83,411.85 L186.38,409.67 L186.94,407.49 L187.49,405.31 L188.05,403.13 L188.61,400.96 L189.16,398.79 L189.72,396.62 L190.28,394.46 L190.83,392.31 L191.39,390.16 L191.95,388.02 L192.50,385.89 L193.06,383.76 L193.61,381.65 L194.17,379.54 L194.73,377.44 L195.28,375.35 L195.84,373.28 L196.40,371.21 L196.95,369.16 L197.51,367.12 L198.06,365.09 L198.62,363.07 L199.18,361.07 L199.73,359.08 L200.29,357.11 L200.85,355.15 L201.40,353.20 L201.96,351.28 L202.51,349.36 L203.07,347.47 L203.63,345.59 L204.18,343.73 L204.74,341.88 L205.30,340.06 L205.85,338.25 L206.41,336.46 L206.96,334.69 L207.52,332.94 L208.08,331.20 L208.63,329.49 L209.19,327.80 L209.75,326.13 L210.30,324.47 L210.86,322.84 L211.41,321.23 L211.97,319.64 L212.53,318.08 L213.08,316.53 L213.64,315.01 L214.20,313.51 L214.75,312.03 L215.31,310.57 L215.86,309.14 L216.42,307.72 L216.98,306.34 L217.53,304.97 L218.09,303.63 L218.65,302.31 L219.20,301.02 L219.76,299.74 L220.31,298.50 L220.87,297.27 L221.43,296.07 L221.98,294.90 L222.54,293.75 L223.10,292.62 L223.65,291.52 L224.21,290.44 L224.76,289.39 L225.32,288.36 L225.88,287.35 L226.43,286.37 L226.99,285.42 L227.55,284.49 L228.10,283.58 L228.66,282.70 L229.21,281.85 L229.77,281.01 L230.33,280.21 L230.88,279.43 L231.44,278.67 L232.00,277.94 L232.55,277.23 L233.11,276.55 L233.67,275.89 L234.22,275.26 L234.78,274.65 L235.33,274.06 L235.89,273.51 L236.45,272.97 L237.00,272.46 L237.56,271.97 L238.12,271.51 L238.67,271.07 L239.23,270.66 L239.78,270.27 L240.34,269.90 L240.90,269.56 L241.45,269.24 L242.01,268.95 L242.57,268.68 L243.12,268.43 L243.68,268.21 L244.23,268.01 L244.79,267.83 L245.35,267.68 L245.90,267.54 L246.46,267.43 L247.02,267.35 L247.57,267.28 L248.13,267.24 L248.68,267.22 L249.24,267.23 L249.80,267.25 L250.35,267.30 L250.91,267.36 L251.47,267.45 L252.02,267.56 L252.58,267.70 L253.13,267.85 L253.69,268.02 L254.25,268.22 L254.80,268.43 L255.36,268.67 L255.92,268.92 L256.47,269.20 L257.03,269.49 L257.58,269.81 L258.14,270.14 L258.70,270.49 L259.25,270.86 L259.81,271.25 L260.37,271.66 L260.92,272.09 L261.48,272.54 L262.03,273.00 L262.59,273.48 L263.15,273.98 L263.70,274.50 L264.26,275.04 L264.82,275.59 L265.37,276.16 L265.93,276.74 L266.48,277.34 L267.04,277.96 L267.60,278.59 L268.15,279.24 L268.71,279.91 L269.27,280.59 L269.82,281.28 L270.38,282.00 L270.93,282.72 L271.49,283.46 L272.05,284.22 L272.60,284.99 L273.16,285.77 L273.72,286.56 L274.27,287.37 L274.83,288.20 L275.39,289.03 L275.94,289.88 L276.50,290.74 L277.05,291.62 L277.61,292.51 L278.17,293.40 L278.72,294.31 L279.28,295.24 L279.84,296.17 L280.39,297.11 L280.95,298.07 L281.50,299.04 L282.06,300.01 L282.62,301.00 L283.17,302.00 L283.73,303.00 L284.29,304.02 L284.84,305.04 L285.40,306.08 L285.95,307.12 L286.51,308.18 L287.07,309.24 L287.62,310.31 L288.18,311.39 L288.74,312.47 L289.29,313.57 L289.85,314.67 L290.40,315.78 L290.96,316.89 L291.52,318.02 L292.07,319.15 L292.63,320.28 L293.19,321.42 L293.74,322.57 L294.30,323.73 L294.85,324.89 L295.41,326.05 L295.97,327.23 L296.52,328.40 L297.08,329.58 L297.64,330.77 L298.19,331.96 L298.75,333.16 L299.30,334.35 L299.86,335.56 L300.42,336.77 L300.97,337.98 L301.53,339.19 L302.09,340.41 L302.64,341.63 L303.20,342.85 L303.75,344.08 L304.31,345.31 L304.87,346.54 L305.42,347.77 L305.98,349.01 L306.54,350.25 L307.09,351.49 L307.65,352.73 L308.20,353.97 L308.76,355.21 L309.32,356.46 L309.87,357.70 L310.43,358.95 L310.99,360.19 L311.54,361.44 L312.10,362.69 L312.65,363.93 L313.21,365.18 L313.77,366.43 L314.32,367.68 L314.88,368.92 L315.44,370.17 L315.99,371.41 L316.55,372.65 L317.11,373.90 L317.66,375.14 L318.22,376.38 L318.77,377.62 L319.33,378.85 L319.89,380.09 L320.44,381.32 L321.00,382.55 L321.56,383.78 L322.11,385.01 L322.67,386.23 L323.22,387.45 L323.78,388.67 L324.34,389.89 L324.89,391.10 L325.45,392.31 L326.01,393.52 L326.56,394.72 L327.12,395.92 L327.67,397.12 L328.23,398.31 L328.79,399.50 L329.34,400.69 L329.90,401.87 L330.46,403.05 L331.01,404.22 L331.57,405.39 L332.12,406.55 L332.68,407.72 L333.24,408.87 L333.79,410.02 L334.35,411.17 L334.91,412.31 L335.46,413.45 L336.02,414.58 L336.57,415.71 L337.13,416.83 L337.69,417.95 L338.24,419.06 L338.80,420.17 L339.36,421.27 L339.91,422.37 L340.47,423.46 L341.02,424.54 L341.58,425.62 L342.14,426.69 L342.69,427.76 L343.25,428.82 L343.81,429.88 L344.36,430.93 L344.92,431.97 L345.47,433.01 L346.03,434.04 L346.59,435.06 L347.14,436.08 L347.70,437.09 L348.26,438.10 L348.81,439.10 L349.37,440.09 L349.92,441.08 L350.48,442.06 L351.04,443.03 L351.59,444.00 L352.15,444.96 L352.71,445.91 L353.26,446.86 L353.82,447.80 L354.37,448.73 L354.93,449.66 L355.49,450.58 L356.04,451.49 L356.60,452.39 L357.16,453.29 L357.71,454.18 L358.27,455.07 L358.83,455.94 L359.38,456.81 L359.94,457.68 L360.49,458.53 L361.05,459.38 L361.61,460.22 L362.16,461.06 L362.72,461.88 L363.28,462.70 L363.83,463.51 L364.39,464.32 L364.94,465.12 L365.50,465.91 L366.06,466.69 L366.61,467.47 L367.17,468.24 L367.73,469.00 L368.28,469.75 L368.84,470.50 L369.39,471.24 L369.95,471.97 L370.51,472.70 L371.06,473.42 L371.62,474.13 L372.18,474.83 L372.73,475.53 L373.29,476.21 L373.84,476.90 L374.40,477.57 L374.96,478.24 L375.51,478.90 L376.07,479.55 L376.63,480.20 L377.18,480.83 L377.74,481.47 L378.29,482.09 L378.85,482.71 L379.41,483.32 L379.96,483.92 L380.52,484.52 L381.08,485.10 L381.63,485.69 L382.19,486.26 L382.74,486.83 L383.30,487.39 L383.86,487.94 L384.41,488.49 L384.97,489.03 L385.53,489.56 L386.08,490.09 L386.64,490.60 L387.19,491.12 L387.75,491.62 L388.31,492.12 L388.86,492.61 L389.42,493.10 L389.98,493.58 L390.53,494.05 L391.09,494.51 L391.64,494.97 L392.20,495.43 L392.76,495.87 L393.31,496.31 L393.87,496.74 L394.43,497.17 L394.98,497.59 L395.54,498.00 L396.09,498.41 L396.65,498.81 L397.21,499.21 L397.76,499.60 L398.32,499.98 L398.88,500.35 L399.43,500.72 L399.99,501.09 L400.55,501.45 L401.10,501.80 L401.66,502.15 L402.21,502.49 L402.77,502.82 L403.33,503.15 L403.88,503.47 L404.44,503.79 L405.00,504.10 L405.55,504.41 L406.11,504.71 L406.66,505.01 L407.22,505.29 L407.78,505.58 L408.33,505.86 L408.89,506.13 L409.45,506.40 L410.00,506.66 L410.56,506.92 L411.11,507.17 L411.67,507.42 L412.23,507.66 L412.78,507.90 L413.34,508.13 L413.90,508.36 L414.45,508.58 L415.01,508.80 L415.56,509.01 L416.12,509.22 L416.68,509.42 L417.23,509.62 L417.79,509.81 L418.35,510.00 L418.90,510.19 L419.46,510.37 L420.01,510.54 L420.57,510.71 L421.13,510.88 L421.68,511.04 L422.24,511.20 L422.80,511.35 L423.35,511.50 L423.91,511.65 L424.46,511.79 L425.02,511.93 L425.58,512.06 L426.13,512.19 L426.69,512.32 L427.25,512.44 L427.80,512.56 L428.36,512.67 L428.91,512.78 L429.47,512.89 L430.03,513.00 L430.58,513.10 L431.14,513.19 L431.70,513.28 L432.25,513.37 L432.81,513.46 L433.36,513.54 L433.92,513.62 L434.48,513.70 L435.03,513.77 L435.59,513.84 L436.15,513.91 L436.70,513.97 L437.26,514.03 L437.81,514.09 L438.37,514.15 L438.93,514.20 L439.48,514.25 L440.04,514.29 L440.60,514.34 L441.15,514.38 L441.71,514.42 L442.27,514.45 L442.82,514.49 L443.38,514.52 L443.93,514.54 L444.49,514.57 L445.05,514.59 L445.60,514.61 L446.16,514.63 L446.72,514.65 L447.27,514.66 L447.83,514.67 L448.38,514.68 L448.94,514.69 L449.50,514.70 L450.05,514.70 L450.61,514.70 L451.17,514.70 L451.72,514.70 L452.28,514.69 L452.83,514.69 L453.39,514.68 L453.95,514.67 L454.50,514.66 L455.06,514.64 L455.62,514.63 L456.17,514.61 L456.73,514.59 L457.28,514.57 L457.84,514.55 L458.40,514.53 L458.95,514.50 L459.51,514.48 L460.07,514.45 L460.62,514.42 L461.18,514.39 L461.73,514.36 L462.29,514.33 L462.85,514.30 L463.40,514.26 L463.96,514.23 L464.52,514.19 L465.07,514.15 L465.63,514.11 L466.18,514.07 L466.74,514.03 L467.30,513.99 L467.85,513.95 L468.41,513.90 L468.97,513.86 L469.52,513.82 L470.08,513.77 L470.63,513.72 L471.19,513.67 L471.75,513.63 L472.30,513.58 L472.86,513.53 L473.42,513.48 L473.97,513.43 L474.53,513.38 L475.08,513.32 L475.64,513.27 L476.20,513.22 L476.75,513.16 L477.31,513.11 L477.87,513.06 L478.42,513.00 L478.98,512.95 L479.53,512.89 L480.09,512.83 L480.65,512.78 L481.20,512.72 L481.76,512.67 L482.32,512.61 L482.87,512.55 L483.43,512.49 L483.99,512.44 L484.54,512.38 L485.10,512.32 L485.65,512.26 L486.21,512.21 L486.77,512.15 L487.32,512.09 L487.88,512.03 L488.44,511.97 L488.99,511.92 L489.55,511.86 L490.10,511.80 L490.66,511.74 L491.22,511.68 L491.77,511.63 L492.33,511.57 L492.89,511.51 L493.44,511.45 L494.00,511.40 L494.55,511.34 L495.11,511.28 L495.67,511.23 L496.22,511.17 L496.78,511.12 L497.34,511.06 L497.89,511.00 L498.45,510.95 L499.00,510.89 L499.56,510.84 L500.12,510.78 L500.67,510.73 L501.23,510.68 L501.79,510.62 L502.34,510.57 L502.90,510.52 L503.45,510.47 L504.01,510.41 L504.57,510.36 L505.12,510.31 L505.68,510.26 L506.24,510.21 L506.79,510.16 L507.35,510.11 L507.90,510.06 L508.46,510.02 L509.02,509.97 L509.57,509.92 L510.13,509.88 L510.69,509.83 L511.24,509.78 L511.80,509.74 L512.35,509.69 L512.91,509.65 L513.47,509.61 L514.02,509.56 L514.58,509.52 L515.14,509.48 L515.69,509.44 L516.25,509.40 L516.80,509.36 L517.36,509.32 L517.92,509.28 L518.47,509.24 L519.03,509.20 L519.59,509.17 L520.14,509.13 L520.70,509.09 L521.25,509.06 L521.81,509.03 L522.37,508.99 L522.92,508.96 L523.48,508.93 L524.04,508.89 L524.59,508.86 L525.15,508.83 L525.71,508.80 L526.26,508.77 L526.82,508.74 L527.37,508.72 L527.93,508.69 L528.49,508.66 L529.04,508.63 L529.60,508.61 L530.16,508.58 L530.71,508.56 L531.27,508.54 L531.82,508.51 L532.38,508.49 L532.94,508.47 L533.49,508.45 L534.05,508.43 L534.61,508.41 L535.16,508.39 L535.72,508.37 L536.27,508.35 L536.83,508.34 L537.39,508.32 L537.94,508.31 L538.50,508.29 L539.06,508.28 L539.61,508.26 L540.17,508.25 L540.72,508.24 L541.28,508.23 L541.84,508.21 L542.39,508.20 L542.95,508.19 L543.51,508.19 L544.06,508.18 L544.62,508.17 L545.17,508.16 L545.73,508.16 L546.29,508.15 L546.84,508.14 L547.40,508.14 L547.96,508.13 L548.51,508.13 L549.07,508.13 L549.62,508.13 L550.18,508.12 L550.74,508.12 L551.29,508.12 L551.85,508.12 L552.41,508.12 L552.96,508.12 L553.52,508.13 L554.07,508.13 L554.63,508.13 L555.19,508.13 L555.74,508.14 L556.30,508.14 L556.86,508.15 L557.41,508.15 L557.97,508.16 L558.52,508.17 L559.08,508.17 L559.64,508.18 L560.19,508.19 L560.75,508.20 L561.31,508.21 L561.86,508.22 L562.42,508.23 L562.97,508.24 L563.53,508.25 L564.09,508.26 L564.64,508.27 L565.20,508.29 L565.76,508.30 L566.31,508.31 L566.87,508.33 L567.43,508.34 L567.98,508.36 L568.54,508.37 L569.09,508.39 L569.65,508.41 L570.21,508.42 L570.76,508.44 L571.32,508.46 L571.88,508.47 L572.43,508.49 L572.99,508.51 L573.54,508.53 L574.10,508.55 L574.66,508.57 L575.21,508.59 L575.77,508.61 L576.33,508.63 L576.88,508.65 L577.44,508.68 L577.99,508.70 L578.55,508.72 L579.11,508.74 L579.66,508.77 L580.22,508.79 L580.78,508.81 L581.33,508.84 L581.89,508.86 L582.44,508.89 L583.00,508.91 L583.56,508.94 L584.11,508.96 L584.67,508.99 L585.23,509.02 L585.78,509.04 L586.34,509.07 L586.89,509.10 L587.45,509.12 L588.01,509.15 L588.56,509.18 L589.12,509.21 L589.68,509.23 L590.23,509.26 L590.79,509.29 L591.34,509.32 L591.90,509.35 L592.46,509.38 L593.01,509.41 L593.57,509.44 L594.13,509.47 L594.68,509.50 L595.24,509.53 L595.79,509.56 L596.35,509.59 L596.91,509.62 L597.46,509.65 L598.02,509.68 L598.58,509.71 L599.13,509.74 L599.69,509.78 L600.24,509.81 L600.80,509.84 L601.36,509.87 L601.91,509.90 L602.47,509.93 L603.03,509.97 L603.58,510.00 L604.14,510.03 L604.69,510.06 L605.25,510.10 L605.81,510.13 L606.36,510.16 L606.92,510.19 L607.48,510.23 L608.03,510.26 L608.59,510.29 L609.15,510.32 L609.70,510.36 L610.26,510.39 L610.81,510.42 L611.37,510.46 L611.93,510.49 L612.48,510.52 L613.04,510.56 L613.60,510.59 L614.15,510.62 L614.71,510.65 L615.26,510.69 L615.82,510.72 L616.38,510.75 L616.93,510.79 L617.49,510.82 L618.05,510.85 L618.60,510.89 L619.16,510.92 L619.71,510.95 L620.27,510.99 L620.83,511.02 L621.38,511.05 L621.94,511.08 L622.50,511.12 L623.05,511.15 L623.61,511.18 L624.16,511.22 L624.72,511.25 L625.28,511.28 L625.83,511.31 L626.39,511.35 L626.95,511.38 L627.50,511.41 L628.06,511.44 L628.61,511.47 L629.17,511.51 L629.73,511.54 L630.28,511.57 L630.84,511.60 L631.40,511.63 L631.95,511.67 L632.51,511.70 L633.06,511.73 L633.62,511.76 L634.18,511.79 L634.73,511.82 L635.29,511.85 L635.85,511.88 L636.40,511.91 L636.96,511.94 L637.51,511.97 L638.07,512.00 L638.63,512.03 L639.18,512.06 L639.74,512.09 L640.30,512.12 L640.85,512.15 L641.41,512.18 L641.96,512.21 L642.52,512.24 L643.08,512.27 L643.63,512.30 L644.19,512.33 L644.75,512.36 L645.30,512.39 L645.86,512.41 L646.41,512.44 L646.97,512.47 L647.53,512.50 L648.08,512.52 L648.64,512.55 L649.20,512.58 L649.75,512.61 L650.31,512.63 L650.87,512.66 L651.42,512.69 L651.98,512.71 L652.53,512.74 L653.09,512.77 L653.65,512.79 L654.20,512.82 L654.76,512.84 L655.32,512.87 L655.87,512.89 L656.43,512.92 L656.98,512.94 L657.54,512.97 L658.10,512.99 L658.65,513.02 L659.21,513.04 L659.77,513.06 L660.32,513.09 L660.88,513.11 L661.43,513.13 L661.99,513.16 L662.55,513.18 L663.10,513.20 L663.66,513.23 L664.22,513.25 L664.77,513.27 L665.33,513.29 L665.88,513.31 L666.44,513.34 L667.00,513.36 L667.55,513.38 L668.11,513.40 L668.67,513.42 L669.22,513.44 L669.78,513.46 L670.33,513.48 L670.89,513.50 L671.45,513.52 L672.00,513.54 L672.56,513.56 L673.12,513.58 L673.67,513.60 L674.23,513.62 L674.78,513.64 L675.34,513.66 L675.90,513.67 L676.45,513.69 L677.01,513.71 L677.57,513.73 L678.12,513.75 L678.68,513.76 L679.23,513.78 L679.79,513.80 L680.35,513.81 L680.90,513.83 L681.46,513.85 L682.02,513.86 L682.57,513.88 L683.13,513.90 L683.68,513.91 L684.24,513.93 L684.80,513.94 L685.35,513.96 L685.91,513.97 L686.47,513.99 L687.02,514.00 L687.58,514.02 L688.13,514.03 L688.69,514.04 L689.25,514.06 L689.80,514.07 L690.36,514.08 L690.92,514.10 L691.47,514.11 L692.03,514.12 L692.59,514.14 L693.14,514.15 L693.70,514.16 L694.25,514.17 L694.81,514.19 L695.37,514.20 L695.92,514.21 L696.48,514.22 L697.04,514.23 L697.59,514.24 L698.15,514.25 L698.70,514.27 L699.26,514.28 L699.82,514.29 L700.37,514.30 L700.93,514.31 L701.49,514.32 L702.04,514.33 L702.60,514.34 L703.15,514.35 L703.71,514.36 L704.27,514.37 L704.82,514.37 L705.38,514.38 L705.94,514.39 L706.49,514.40 L707.05,514.41 L707.60,514.42 L708.16,514.43 L708.72,514.43 L709.27,514.44 L709.83,514.45 L710.39,514.46 L710.94,514.46 L711.50,514.47 L712.05,514.48 L712.61,514.49 L713.17,514.49 L713.72,514.50 L714.28,514.51 L714.84,514.51 L715.39,514.52 L715.95,514.52 L716.50,514.53 L717.06,514.54 L717.62,514.54 L718.17,514.55 L718.73,514.55 L719.29,514.56 L719.84,514.56 L720.40,514.57 L720.95,514.57 L721.51,514.58 L722.07,514.58 L722.62,514.59 L723.18,514.59 L723.74,514.60 L724.29,514.60 L724.85,514.61 L725.40,514.61 L725.96,514.61 L726.52,514.62 L727.07,514.62 L727.63,514.63 L728.19,514.63 L728.74,514.63 L729.30,514.64 L729.85,514.64 L730.41,514.64 L730.97,514.65 L731.52,514.65 L732.08,514.65 L732.64,514.65 L733.19,514.66 L733.75,514.66 L734.31,514.66 L734.86,514.66 L735.42,514.67 L735.97,514.67 L736.53,514.67 L737.09,514.67 L737.64,514.68 L738.20,514.68 L738.76,514.68 L739.31,514.68 L739.87,514.68 L740.42,514.68 L740.98,514.69 L741.54,514.69 L742.09,514.69 L742.65,514.69 L743.21,514.69 L743.76,514.69 L744.32,514.69 L744.87,514.69 L745.43,514.69 L745.99,514.69 L746.54,514.70 L747.10,514.70 L747.66,514.70 L748.21,514.70 L748.77,514.70 L749.32,514.70 L749.88,514.70 L750.44,514.70 L750.99,514.70 L751.55,514.70 L752.11,514.70 L752.66,514.70 L753.22,514.70 L753.77,514.70 L754.33,514.70 L754.89,514.70 L755.44,514.70 L756.00,514.70 L756.56,514.70 L757.11,514.70 L757.67,514.70 L758.22,514.70 L758.78,514.70 L759.34,514.70 L759.89,514.70 L760.45,514.70 L761.01,514.70 L761.56,514.69 L762.12,514.69 L762.67,514.69 L763.23,514.69 L763.79,514.69 L764.34,514.69 L764.90,514.69 L765.46,514.69 L766.01,514.69 L766.57,514.69 L767.12,514.69 L767.68,514.69 L768.24,514.68 L768.79,514.68 L769.35,514.68 L769.91,514.68 L770.46,514.68 L771.02,514.68 L771.57,514.68 L772.13,514.68 L772.69,514.68 L773.24,514.67 L773.80,514.67 L774.36,514.67 L774.91,514.67 L775.47,514.67 L776.03,514.67 L776.58,514.67 L777.14,514.66 L777.69,514.66 L778.25,514.66 L778.81,514.66 L779.36,514.66 L779.92,514.66 L780.48,514.66 L781.03,514.66 L781.59,514.65 L782.14,514.65 L782.70,514.65 L783.26,514.65 L783.81,514.65 L784.37,514.65 L784.93,514.64 L785.48,514.64 L786.04,514.64 L786.59,514.64 L787.15,514.64 L787.71,514.64 L788.26,514.64 L788.82,514.63 L789.38,514.63 L789.93,514.63 L790.49,514.63 L791.04,514.63 L791.60,514.63 L792.16,514.62 L792.71,514.62 L793.27,514.62 L793.83,514.62 L794.38,514.62 L794.94,514.62 L795.49,514.62 L796.05,514.61 L796.61,514.61 L797.16,514.61 L797.72,514.61 L798.28,514.61 L798.83,514.61 L799.39,514.60 L799.94,514.60 L800.50,514.60 L801.06,514.60 L801.61,514.60 L802.17,514.60 L802.73,514.60 L803.28,514.59 L803.84,514.59 L804.39,514.59 L804.95,514.59 L805.51,514.59 L806.06,514.59 L806.62,514.59 L807.18,514.58 L807.73,514.58 L808.29,514.58 L808.84,514.58 L809.40,514.58 L809.96,514.58 L810.51,514.58 L811.07,514.58 L811.63,514.57 L812.18,514.57 L812.74,514.57 L813.29,514.57 L813.85,514.57 L814.41,514.57 L814.96,514.57 L815.52,514.57" stroke="#000" stroke-dasharray="2.8 7.47 9.85 7.47" stroke-dashoffset="1.4"/>
<path d="M146.1,514.7 H817.42" stroke="#000" stroke-width="3.7"/>
</g>
<g fill="none" stroke="#000" stroke-width="3.7">
<path d="M148.00,542.6 v-9.7 M148.00,10.3 v9.7 M189.72,542.6 v-5.8 M189.72,10.3 v5.8 M231.44,542.6 v-5.8 M231.44,10.3 v5.8 M273.16,542.6 v-5.8 M273.16,10.3 v5.8 M314.88,542.6 v-9.7 M314.88,10.3 v9.7 M356.60,542.6 v-5.8 M356.60,10.3 v5.8 M398.32,542.6 v-5.8 M398.32,10.3 v5.8 M440.04,542.6 v-5.8 M440.04,10.3 v5.8 M481.76,542.6 v-9.7 M481.76,10.3 v9.7 M523.48,542.6 v-5.8 M523.48,10.3 v5.8 M565.20,542.6 v-5.8 M565.20,10.3 v5.8 M606.92,542.6 v-5.8 M606.92,10.3 v5.8 M648.64,542.6 v-9.7 M648.64,10.3 v9.7 M690.36,542.6 v-5.8 M690.36,10.3 v5.8 M732.08,542.6 v-5.8 M732.08,10.3 v5.8 M773.80,542.6 v-5.8 M773.80,10.3 v5.8 M815.52,542.6 v-9.7 M815.52,10.3 v9.7 M127.0,514.70 h9.7 M836.5,514.70 h-9.7 M127.0,486.68 h5.8 M836.5,486.68 h-5.8 M127.0,458.66 h5.8 M836.5,458.66 h-5.8 M127.0,430.64 h5.8 M836.5,430.64 h-5.8 M127.0,402.62 h5.8 M836.5,402.62 h-5.8 M127.0,374.60 h9.7 M836.5,374.60 h-9.7 M127.0,346.58 h5.8 M836.5,346.58 h-5.8 M127.0,318.56 h5.8 M836.5,318.56 h-5.8 M127.0,290.54 h5.8 M836.5,290.54 h-5.8 M127.0,262.52 h5.8 M836.5,262.52 h-5.8 M127.0,234.50 h9.7 M836.5,234.50 h-9.7 M127.0,206.48 h5.8 M836.5,206.48 h-5.8 M127.0,178.46 h5.8 M836.5,178.46 h-5.8 M127.0,150.44 h5.8 M836.5,150.44 h-5.8 M127.0,122.42 h5.8 M836.5,122.42 h-5.8 M127.0,94.40 h9.7 M836.5,94.40 h-9.7 M127.0,66.38 h5.8 M836.5,66.38 h-5.8 M127.0,38.36 h5.8 M836.5,38.36 h-5.8"/>
<rect x="127.0" y="10.3" width="709.5" height="532.3000000000001" stroke-linejoin="miter"/>
</g>
<g class="tl"><text transform="translate(147.50,574.20) scale(1.03,1)" text-anchor="middle">0</text><text transform="translate(314.85,574.20) scale(1.08,1)" text-anchor="middle">2</text><text transform="translate(481.51,574.20) scale(1.0,1)" text-anchor="middle">4</text><text transform="translate(648.39,574.20) scale(1.0,1)" text-anchor="middle">6</text><text transform="translate(815.27,574.20) scale(1.0,1)" text-anchor="middle">8</text><text transform="translate(86.35,523.65) scale(1.03,1)" text-anchor="middle">0</text><text x="96.2" y="523.65">.</text><text transform="translate(111.30,523.65) scale(1.03,1)" text-anchor="middle">0</text><text transform="translate(86.35,383.55) scale(1.03,1)" text-anchor="middle">0</text><text x="96.2" y="383.55">.</text><text transform="translate(111.30,383.55) scale(1.0,1)" text-anchor="middle">5</text><text transform="translate(86.51,243.45) scale(0.81,1)" text-anchor="middle">1</text><text x="96.2" y="243.45">.</text><text transform="translate(111.30,243.45) scale(1.03,1)" text-anchor="middle">0</text><text transform="translate(86.51,103.35) scale(0.81,1)" text-anchor="middle">1</text><text x="96.2" y="103.35">.</text><text transform="translate(111.30,103.35) scale(1.0,1)" text-anchor="middle">5</text></g>
<g transform="translate(45.3,444.2) rotate(-90)" fill="#000"><path d="M8.40,-29.0 A26.27,26.27 0 0 0 8.40,9.7 L9.20,9.299999999999999 A29.64,29.64 0 0 1 9.20,-28.6 Z"/><text transform="translate(11.24,0.04) scale(0.3476,0.3869)" font-size="100">1</text><path d="M31.9,9.1 L45.6,-28.3" fill="none" stroke="#000" stroke-width="1.5"/><text transform="translate(48.35,0.09) scale(0.3750,0.3865)" font-size="100">2</text><circle cx="52.1" cy="-18.6" r="1.6"/><path d="M69.00,-29.0 A26.27,26.27 0 0 1 69.00,9.7 L68.20,9.299999999999999 A29.64,29.64 0 0 0 68.20,-28.6 Z"/><path d="M95.7,-32.3 L86.2,-9.8 L95.7,12.7" fill="none" stroke="#000" stroke-width="1.5" stroke-linejoin="miter" stroke-miterlimit="10"/><path d="M117.0,-32.3 C111.2,-31.999999999999996 110.0,-29.699999999999996 110.0,-25.799999999999997 L110.0,-15.3 C110.0,-12.4 106.65,-10.8 103.3,-9.8 C106.65,-8.8 110.0,-7.200000000000001 110.0,-4.300000000000001 L110.0,6.199999999999999 C110.0,10.1 111.2,12.399999999999999 117.0,12.7" fill="none" stroke="#000" stroke-width="1.3" stroke-linejoin="round"/><path d="M110.0,-27.799999999999997 L110.0,-14.0 M110.0,-5.6000000000000005 L110.0,8.2" fill="none" stroke="#000" stroke-width="2.6" stroke-linecap="round"/><g fill="none" stroke="#000" stroke-linecap="butt"><path d="M133.9,-25.7 L143.7,-0.8" stroke-width="3.1"/><path d="M148.5,-25.2 L127.3,-0.9" stroke-width="1.25"/><path d="M129.6,-25.75 H138.0 M145.5,-25.75 H153.1 M139.0,-0.75 H148.4 M122.2,-0.75 H130.3" stroke-width="1.35"/></g><path d="M136.2,-29.7 L141.45,-35.1 L146.6,-29.7" fill="none" stroke="#000" stroke-width="1.4" stroke-linejoin="miter"/><path d="M167.10,-29.0 A26.27,26.27 0 0 0 167.10,9.7 L167.90,9.299999999999999 A29.64,29.64 0 0 1 167.90,-28.6 Z"/><g transform="translate(170.4,0.15)" fill="none" stroke="#000"><path d="M8.0,-23.9 L2.75,-4.6" stroke-width="2.45"/><path d="M3.0,-5.6 C2.0,-1.6 2.9,0.0 4.9,-0.25 C7.2,-0.6 9.5,-3.2 10.5,-6.1" stroke-width="1.25" stroke-linecap="round"/><path d="M0,-16.05 H11.4" stroke-width="1.45"/></g><path d="M185.40,-29.0 A26.27,26.27 0 0 1 185.40,9.7 L184.60,9.299999999999999 A29.64,29.64 0 0 0 184.60,-28.6 Z"/><circle cx="202.7" cy="-2.0" r="1.95"/><path d="M204.2,-2.4 C204.8,0.8 204.3,4.0 201.7,7.1" fill="none" stroke="#000" stroke-width="1.1" stroke-linecap="round"/><g fill="none" stroke="#000" stroke-linecap="butt" stroke-linejoin="round"><path d="M226.35,-25.7 L221.3,-0.9" stroke-width="3.25"/><path d="M215.9,-0.75 H226.5" stroke-width="1.35"/><path d="M222.2,-25.75 H234.5 C238.8,-25.75 241.0,-23.9 241.0,-20.7 C241.0,-16.0 237.0,-13.0 231.0,-13.0 L224.0,-13.0" stroke-width="1.3"/><path d="M238.6,-24.6 C240.0,-23.7 240.6,-22.2 240.5,-20.5 C240.2,-17.7 238.6,-15.6 236.0,-14.3" stroke-width="2.5" stroke-linecap="round"/></g><path d="M226.5,-29.7 L231.65,-35.2 L236.9,-29.7" fill="none" stroke="#000" stroke-width="1.4" stroke-linejoin="miter"/><path d="M255.50,-29.0 A26.27,26.27 0 0 0 255.50,9.7 L256.30,9.299999999999999 A29.64,29.64 0 0 1 256.30,-28.6 Z"/><g transform="translate(258.3,0.15)" fill="none" stroke="#000"><path d="M8.0,-23.9 L2.75,-4.6" stroke-width="2.45"/><path d="M3.0,-5.6 C2.0,-1.6 2.9,0.0 4.9,-0.25 C7.2,-0.6 9.5,-3.2 10.5,-6.1" stroke-width="1.25" stroke-linecap="round"/><path d="M0,-16.05 H11.4" stroke-width="1.45"/></g><path d="M273.60,-29.0 A26.27,26.27 0 0 1 273.60,9.7 L272.80,9.299999999999999 A29.64,29.64 0 0 0 272.80,-28.6 Z"/><path d="M289.6,-32.3 C295.2,-31.999999999999996 296.4,-29.699999999999996 296.4,-25.799999999999997 L296.4,-15.3 C296.4,-12.4 299.7,-10.8 303.0,-9.8 C299.7,-8.8 296.4,-7.200000000000001 296.4,-4.300000000000001 L296.4,6.199999999999999 C296.4,10.1 295.2,12.399999999999999 289.6,12.7" fill="none" stroke="#000" stroke-width="1.3" stroke-linejoin="round"/><path d="M296.4,-27.799999999999997 L296.4,-14.0 M296.4,-5.6000000000000005 L296.4,8.2" fill="none" stroke="#000" stroke-width="2.6" stroke-linecap="round"/><path d="M311.7,-32.3 L321.3,-9.8 L311.7,12.7" fill="none" stroke="#000" stroke-width="1.5" stroke-linejoin="miter" stroke-miterlimit="10"/><text transform="translate(325.87,15.17) scale(0.2668,0.2521)" font-size="100" font-style="italic">c</text></g><g fill="none" stroke="#000" stroke-linecap="round" stroke-linejoin="round"><path d="M467.9,617.0 C465.4,618.6 463.7,622.2 463.7,626.2 C463.7,630.2 465.2,632.3 467.3,632.3 C470.4,632.3 473.6,628.2 474.4,623.0 C474.1,628.6 475.2,632.3 477.8,632.3 C481.2,632.3 484.4,627.0 484.4,621.6 C484.4,619.6 484.0,618.4 483.4,617.7" stroke-width="1.35"/><path d="M463.9,625.0 C463.6,629.6 465.0,632.0 467.3,632.0 C468.6,632.0 470.0,631.2 471.2,629.8" stroke-width="2.2"/><path d="M481.6,629.6 C483.3,627.4 484.3,624.5 484.3,621.6 C484.3,620.3 484.1,619.2 483.8,618.4" stroke-width="2.2"/><circle cx="483.3" cy="617.9" r="1.35" fill="#000" stroke="none"/></g><g transform="translate(487.8,633.3)" fill="none" stroke="#000"><path d="M8.0,-23.9 L2.75,-4.6" stroke-width="2.45"/><path d="M3.0,-5.6 C2.0,-1.6 2.9,0.0 4.9,-0.25 C7.2,-0.6 9.5,-3.2 10.5,-6.1" stroke-width="1.25" stroke-linecap="round"/><path d="M0,-16.05 H11.4" stroke-width="1.45"/></g>
</svg>
</body></html>
